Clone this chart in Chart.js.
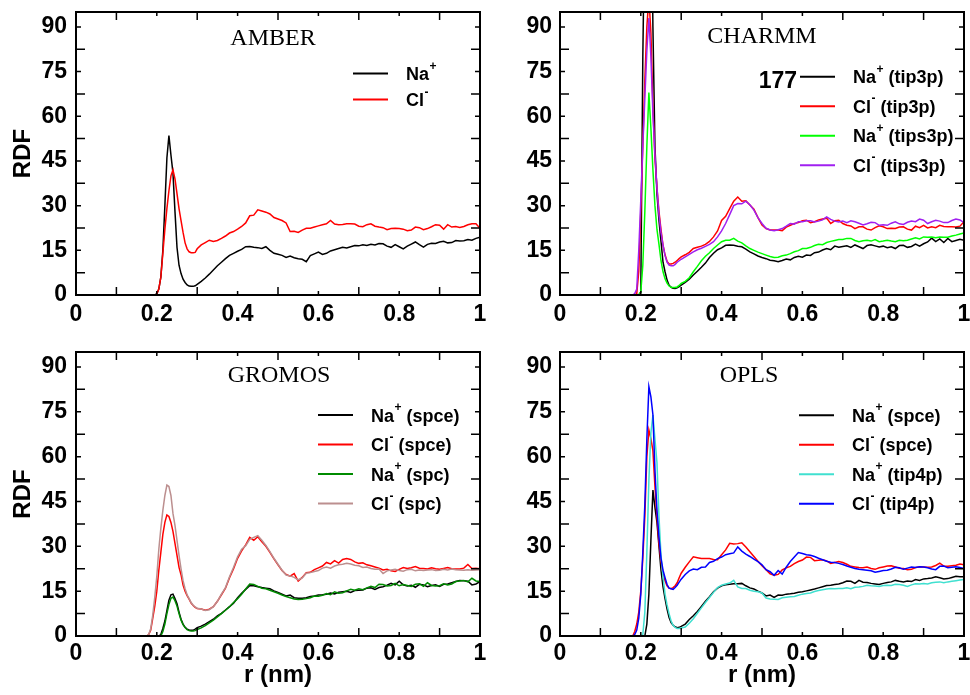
<!DOCTYPE html>
<html>
<head>
<meta charset="utf-8">
<title>Ion RDF by force field</title>
<script src="https://cdn.jsdelivr.net/npm/chart.js@4.4.1/dist/chart.umd.min.js"></script>
<style>
  html, body { margin: 0; padding: 0; background: #fff; }
  #page { position: relative; width: 970px; height: 695px; overflow: hidden; }
  canvas { position: absolute; }
</style>
</head>
<body>
<div id="page">
  <canvas id="amber" width="500" height="340" style="left:0;top:0"></canvas>
  <canvas id="charmm" width="490" height="340" style="left:480px;top:0"></canvas>
  <canvas id="gromos" width="500" height="355" style="left:0;top:340px"></canvas>
  <canvas id="opls" width="490" height="355" style="left:480px;top:340px"></canvas>
</div>
<script>
// r grid (nm): fine steps across the first peak, 0.01 afterwards
const r = [
  0, 0.175, 0.18, 0.185, 0.19, 0.195, 0.2, 0.205, 0.21, 0.215, 0.22, 0.225, 0.23, 0.235,
  0.24, 0.245, 0.25, 0.255, 0.26, 0.265, 0.27, 0.275, 0.28, 0.285, 0.29, 0.295, 0.3,
  0.31, 0.32, 0.33, 0.34, 0.35, 0.36, 0.37, 0.38, 0.39, 0.4,
  0.41, 0.42, 0.43, 0.44, 0.45, 0.46, 0.47, 0.48, 0.49, 0.5,
  0.51, 0.52, 0.53, 0.54, 0.55, 0.56, 0.57, 0.58, 0.59, 0.6,
  0.61, 0.62, 0.63, 0.64, 0.65, 0.66, 0.67, 0.68, 0.69, 0.7,
  0.71, 0.72, 0.73, 0.74, 0.75, 0.76, 0.77, 0.78, 0.79, 0.8,
  0.81, 0.82, 0.83, 0.84, 0.85, 0.86, 0.87, 0.88, 0.89, 0.9,
  0.91, 0.92, 0.93, 0.94, 0.95, 0.96, 0.97, 0.98, 0.99, 1
];

const xTicks = [0, 0.2, 0.4, 0.6, 0.8, 1];
const xTickLabels = ['0', '0.2', '0.4', '0.6', '0.8', '1'];
const xMinor = [0.1, 0.3, 0.5, 0.7, 0.9];
const yTicks = [0, 15, 30, 45, 60, 75, 90];
const yMinor = [7.5, 22.5, 37.5, 52.5, 67.5, 82.5];

// AMBER
const amberNa = [
  0, 0, 0, 0, 0, 0, 0.5, 2, 6, 15, 30, 46, 53.5, 47, 41, 28, 16, 10, 7.2, 5.3, 4.2, 3.4, 3, 2.9, 2.9, 3.1, 3.6,
  4.6, 5.7, 7, 8.4, 9.8, 11, 12.2, 13.3, 14, 14.7,
  15.3, 16.2, 16.3, 16, 15.9, 15.6, 16.2, 15, 14, 13.7,
  13.3, 12.6, 13.1, 12.5, 12.2, 12, 11.2, 13.2, 13.8, 14.4,
  13.6, 14, 14.8, 15.2, 15.6, 16, 15.8, 16.2, 16.6, 16.5,
  16.9, 16.6, 17, 16.8, 17.3, 17.2, 16.4, 16, 16.9, 16.2,
  15.5, 16.4, 17.1, 17.8, 16.9, 16.1, 17, 17.4, 17.3, 17.8,
  18, 17.5, 17.6, 18.3, 18.1, 18.2, 18.6, 18.4, 19, 19.4
];
const amberCl = [
  0, 0, 0, 0, 0, 0, 0.3, 2, 6, 14, 22, 29, 35, 40, 42, 39, 34, 29, 25, 21, 17.5, 15.5, 14.5, 14.2, 14.2, 14.3, 15.5,
  16.8, 17.6, 18.4, 18, 18.3, 19, 19.8, 20.8, 21.3, 22.1,
  23, 24.2, 26.6, 26.8, 28.6, 28.2, 27.8, 27.2, 26, 25.5,
  25, 24.2, 21.3, 21.4, 21, 21.8, 22.4, 22.4, 22.8, 23.2,
  23.6, 23.9, 25, 23.8, 23.6, 23.7, 23.9, 23.9, 23.8, 23.1,
  22.9, 23.6, 23.9, 23.1, 22.8, 22.6, 21.9, 22.3, 22.4, 22.3,
  22.1, 21.6, 21.8, 22.8, 22.6, 21.9, 22.3, 22.9, 23.6, 23.4,
  22.1, 23.6, 22.8, 23, 22.7, 23, 23.6, 23.9, 23.9, 22.4
];

// CHARMM
const charmmNaTip3p = [
  0, 0, 0, 0, 0, 0, 1, 80, 130, 165, 177, 150, 90, 50, 34, 25, 18, 11, 7.8, 5, 3.3, 2.6, 2.3, 2.2, 2.4, 2.8, 3.3,
  4.2, 5.3, 6.7, 8, 9.3, 10.7, 12.6, 14, 15.2, 15.8,
  16.7, 16.8, 16.7, 16.4, 16.2, 15.4, 14.5, 13.8, 13.1, 12.6,
  12.2, 11.7, 11.5, 11.2, 11.6, 12.1, 11.8, 12.6, 13, 12.7,
  13.4, 13.3, 14.2, 14.4, 15.1, 15.6, 15.2, 16.4, 16, 16.3,
  16.5, 16, 16.8, 16.2, 15.6, 16.6, 16.9, 16.5, 16.1, 16.4,
  15.9, 16.2, 15.6, 16.6, 16.7, 16, 16.3, 17.1, 16.4, 17.2,
  17.8, 19.1, 17.9, 18.8, 17.6, 19, 17.9, 18.3, 18.7, 18.4
];
const charmmClTip3p = [
  0, 0, 0, 0, 0.5, 8, 28, 50, 72, 90, 100, 88, 63, 46, 36, 28, 22, 16.7, 13.5, 11.3, 10.4, 10.4, 10.6, 11, 11.6, 12.2, 12.8,
  13.5, 14.3, 15.6, 16, 16.4, 17, 18, 19.5, 21.5, 25,
  26.4, 29, 31.5, 32.9, 31.5, 31.6, 30.2, 28.8, 26, 23.5,
  22.3, 21.8, 21.8, 21.8, 21.6, 22.8, 23.4, 24, 24.3, 24.9,
  25.1, 24.3, 24.6, 25.2, 25.5, 25.8, 24, 24.9, 25.1, 24,
  23.4, 23.2, 22.3, 22.9, 22.9, 22.1, 21.8, 22.6, 23.2, 22.9,
  22.3, 22.4, 22.3, 22.8, 22.9, 22.1, 21.8, 23.1, 22.6, 23.4,
  22.5, 22.9, 22.6, 23.4, 23, 22.9, 22.9, 22.8, 23.1, 24.6
];
const charmmNaTips3p = [
  0, 0, 0, 0, 0, 0, 1, 10, 28, 50, 68, 56, 42, 30, 22, 17, 11.5, 7.8, 5.5, 4, 3, 2.6, 2.5, 2.5, 2.7, 3.2, 3.9,
  4.6, 5.8, 7.8, 9.6, 11.5, 13, 14.2, 15.6, 16.8, 17.9,
  18.4, 18.4, 19, 18.1, 17.5, 16.5, 15.6, 15, 14.4, 13.9,
  13.4, 12.9, 12.6, 12.7, 13.2, 13.4, 13.9, 14.5, 14.9, 15.6,
  15.6, 16, 16.6, 17, 16.9, 17.6, 18, 18.3, 18.6, 18.6,
  19, 19, 18.3, 17.9, 18.2, 18.4, 18.1, 18.6, 17.9, 18.1,
  18.4, 18.1, 17.9, 18.4, 18.2, 18.4, 18.8, 19.2, 18.8, 19.5,
  19.4, 19.5, 19.2, 19.5, 19.4, 19.4, 19.8, 20.1, 20.5, 20.8
];
const charmmClTips3p = [
  0, 0, 0, 0.5, 2, 15, 32, 50, 66, 82, 93, 80, 61, 47, 36, 27, 21, 16.7, 13.2, 11, 10, 9.8, 9.8, 10.3, 11, 11.5, 12,
  12.8, 13.6, 14.5, 15.2, 15.7, 16.3, 17, 17.9, 19.5, 21.5,
  24, 27, 30, 30.7, 30.6, 31.5, 30.3, 28.5, 26, 24,
  22.4, 21.8, 21.6, 21.9, 22.3, 23.1, 24, 23.8, 24.6, 24.6,
  24.9, 24.9, 24.5, 24.8, 25.2, 26.2, 25.4, 24.8, 24.5, 24.8,
  24.3, 24.9, 24.6, 24.1, 23.5, 23.9, 24.4, 24.3, 23.4, 23.6,
  23.4, 24.1, 24.6, 23.9, 23.7, 24.4, 24.8, 24.6, 25.5, 25.1,
  24, 24.6, 25.1, 24.8, 24.3, 24.3, 25, 25.5, 25.2, 24.3
];

// GROMOS
const gromosNaSpce = [
  0, 0, 0, 0, 0, 0, 0, 0, 0.5, 2.5, 5, 8.5, 12, 13.8, 14, 12.5, 10.8, 8, 5.6, 4, 2.9, 2.3, 2, 1.9, 1.9, 2.3, 2.8,
  3.3, 4, 4.8, 5.6, 6.7, 7.6, 8.7, 9.8, 11, 12.8,
  14.3, 15.6, 16.8, 16.8, 16.5, 16.2, 16, 15.8, 15.1, 14.6,
  14, 13.4, 13.7, 12.8, 12.6, 12.6, 12.8, 13.2, 13.4, 13.7,
  13.8, 14, 14.4, 14.1, 14.6, 14.8, 15, 14.6, 15.2, 15.3,
  15.4, 16, 16.1, 15.6, 16.2, 16.5, 17, 17.6, 17.1, 18.3,
  17.1, 16.7, 17, 16.3, 17.3, 17.1, 16.5, 16.9, 17.1, 16.6,
  17.3, 17.4, 17.8, 18.2, 18.6, 18.5, 18.3, 17.1, 17.4, 18.2
];
const gromosClSpce = [
  0, 0, 0.5, 2, 6, 10, 15, 22, 28, 34, 38, 40.5, 40, 38, 35, 31, 27, 23, 20.5, 17, 15, 13.5, 12.3, 11, 10.2, 9.6, 9.2,
  9, 8.6, 9, 9.8, 11.6, 13.8, 16, 19.5, 22.5, 26,
  28.5, 30.5, 33, 32, 33.2, 31.5, 30, 28, 25.8, 23.8,
  21.9, 20.6, 20, 20.9, 18.4, 19.6, 21.2, 21.3, 22.2, 22.8,
  23.4, 24.6, 24.1, 25.2, 24.4, 25.6, 25.9, 25.6, 24.8, 24.3,
  24.5, 23.8, 23.5, 23.1, 22.7, 22.1, 22.3, 21.8, 21.6, 22.3,
  22.9, 22.6, 22.8, 23.2, 22.7, 22.6, 22.4, 22.8, 22.5, 22.3,
  22.6, 22.9, 22.5, 22.4, 22.4, 22.7, 23.9, 22.6, 22.7, 22.5
];
const gromosNaSpc = [
  0, 0, 0, 0, 0, 0, 0, 0, 0, 1.5, 4, 7.5, 10.5, 12.6, 13, 11.8, 10, 7.5, 5.3, 3.8, 2.8, 2.1, 1.8, 1.7, 1.7, 1.8, 2.2,
  2.7, 3.5, 4.4, 5.3, 6.4, 7.5, 8.6, 9.8, 11.2, 12.5,
  14, 15.7, 17.4, 17.2, 16.6, 16, 15.8, 15.3, 14.8, 14.3,
  13.7, 13.2, 12.8, 12.4, 12.2, 12.3, 12.5, 12.8, 13.4, 13.3,
  13.6, 14.2, 13.8, 14.8, 14.3, 14.5, 15.1, 15.6, 15.3, 15.8,
  15.5, 16.1, 16.6, 16.2, 17.3, 17.2, 16.7, 16.9, 17.6, 16.8,
  17.2, 16.9, 16.6, 17.3, 17.5, 16.6, 17.8, 16.9, 16.7, 16.8,
  17.5, 17.1, 17.4, 18.2, 18.4, 18.6, 18.1, 19.3, 18.4, 18.2
];
const gromosClSpc = [
  0, 0, 0.5, 2.5, 7, 13, 20, 29, 36, 42, 47, 50.5, 50, 47, 41, 37, 32, 27, 22.5, 18.5, 15.8, 13.8, 12.5, 11.2, 10.3, 9.7, 9.3,
  9, 8.5, 8.8, 9.8, 11.6, 14, 16.2, 19.8, 23, 26.5,
  29, 30.2, 32.3, 33, 33.6, 32, 30.3, 28.2, 26, 24,
  22, 20.4, 20.1, 19.6, 18.8, 19.4, 21, 21.2, 21.6, 21.9,
  22.7, 23.1, 22.7, 23.4, 23.8, 24, 24.3, 24.1, 23.7, 23.5,
  22.9, 23.1, 22.6, 22.3, 22.4, 20.9, 21.8, 22.1, 22.3, 21.9,
  21.7, 22.2, 22.3, 21.8, 22.1, 21.9, 22.1, 22.2, 21.9, 22,
  22.3, 22.1, 22.4, 22.2, 22.1, 22, 22.2, 22, 22.1, 22.2
];

// OPLS
const oplsNaSpce = [
  0, 0, 0, 0, 0, 0, 0, 0, 0, 4, 14, 32, 48.8, 43, 38, 30, 22, 16.4, 12.5, 9, 6.2, 4.5, 3.6, 3.1, 2.8, 2.9, 3.2,
  4, 5.5, 6.8, 8.2, 9.9, 11.6, 13.1, 14.8, 16, 16.8,
  17.1, 17.3, 17.5, 17.5, 17.6, 16.8, 16.1, 15.7, 15, 14.4,
  13.4, 13.7, 12.9, 13.7, 13.6, 14, 14.1, 14.3, 14.6, 14.8,
  15.1, 15.4, 15.7, 16.1, 16.5, 16.9, 17, 17.2, 17.4, 17.8,
  18.4, 18.3, 17.6, 18.6, 18, 17.9, 17.6, 17.4, 17.2, 17.6,
  17.9, 18.1, 18.6, 18.3, 18.1, 18.4, 18.2, 18.9, 18.6, 19.1,
  19.2, 19.4, 19.8, 19.5, 19.1, 19.2, 19.6, 20, 19.8, 19.8
];
const oplsClSpce = [
  0, 0, 0, 1.5, 4, 8, 15, 26, 40, 60, 68.9, 66, 62, 50, 40, 31, 25, 21, 18.5, 16.8, 16, 15.8, 16.2, 16.8, 17.8, 19.5, 21,
  23, 24.8, 26.5, 26.2, 25.9, 25.9, 25.9, 25.6, 25.5, 27.2,
  28.8, 31, 30.8, 30.9, 31.2, 29.8, 28.2, 26.6, 25, 23.5,
  22.2, 20.8, 20.3, 20.6, 22.1, 22.8, 23.3, 24.2, 24.9, 25.4,
  26.4, 26.3, 25.2, 25.3, 25.5, 25.1, 24.3, 24.6, 24.9, 24.6,
  24, 23.3, 23.1, 22.9, 22.8, 23.1, 22.6, 22.3, 22.8, 23.1,
  23.4, 23.5, 23.1, 22.7, 22.6, 22.2, 22.3, 22.9, 23.1, 23.1,
  23, 23.1, 23.6, 24.4, 23.4, 23.3, 23.5, 23.7, 24.1, 23.8
];
const oplsNaTip4p = [
  0, 0, 0, 0, 0, 0, 0, 0.5, 8, 28, 52, 68, 73.9, 66, 58, 40, 27, 19.8, 14, 10.4, 7.5, 5, 3.6, 2.9, 2.5, 2.5, 2.7,
  3, 4.3, 5.8, 7.6, 9.4, 11.2, 12.9, 14.6, 16.2, 17,
  17.4, 17.7, 18.6, 16.4, 15.9, 15.9, 15.3, 15, 14.8, 14.4,
  12.7, 12.4, 12.3, 12.2, 12.8, 13, 13.1, 13.2, 13.6, 14,
  14.2, 14.4, 14.9, 15.2, 15.5, 15.7, 15.9, 15.8, 15.9, 15.9,
  16.1, 15.8, 16.3, 16.4, 16.6, 17, 16.8, 16.7, 16.6, 16.9,
  17, 16.9, 17.3, 17.2, 17, 16.6, 17.1, 17.5, 17.4, 17.6,
  17.4, 17.8, 18, 18.1, 17.8, 18.1, 18.3, 18.5, 18.7, 18.9
];
const oplsClTip4p = [
  0, 0, 0, 0.5, 2, 6, 14, 28, 44, 66, 83.4, 80, 74, 55.5, 42, 33, 26, 22, 19.5, 17.2, 16, 15.8, 15.6, 16.2, 17, 18, 19,
  20.6, 21.8, 22.4, 22.2, 23, 23.1, 24.6, 25, 25.9, 26.4,
  27.2, 27.5, 27.8, 29.8, 28.4, 27.4, 26.6, 25.7, 24.9, 23.8,
  22.2, 21.5, 20.3, 21.9, 20.7, 23, 24.9, 26.4, 27.9, 27.6,
  27.2, 27, 26.6, 26, 25.5, 25, 24.7, 24.6, 24.3, 23.9,
  23.4, 23, 22.6, 22.3, 22.2, 22, 21.8, 21.3, 21.6, 21.9,
  22, 22.4, 23, 22.8, 22.3, 22.7, 23.1, 22.9, 23.2, 23.1,
  22.8, 22.4, 22.2, 23.3, 23.4, 22.8, 23, 23.2, 22.9, 22.6
];

Chart.defaults.font.family = '"Liberation Sans", Arial, sans-serif';
Chart.defaults.color = '#000';

const tickFont = { size: 23, weight: 'bold' };
const axisTitleFont = { size: 24, weight: 'bold' };

// frame, inward ticks, panel title and legend
const decor = {
  id: 'decor',
  afterDatasetsDraw(chart, args, o) {
    const { ctx, chartArea: a, scales: { x, y } } = chart;
    ctx.save();
    ctx.strokeStyle = '#000';
    ctx.lineWidth = 2;
    ctx.strokeRect(a.left, a.top, a.right - a.left, a.bottom - a.top);

    ctx.lineWidth = 1.5;
    ctx.beginPath();
    const xMark = (v, len) => {
      const p = x.getPixelForValue(v);
      ctx.moveTo(p, a.bottom); ctx.lineTo(p, a.bottom - len);
      ctx.moveTo(p, a.top); ctx.lineTo(p, a.top + len);
    };
    const yMark = (v, len) => {
      const p = y.getPixelForValue(v);
      ctx.moveTo(a.left, p); ctx.lineTo(a.left + len, p);
      ctx.moveTo(a.right, p); ctx.lineTo(a.right - len, p);
    };
    xTicks.forEach(v => xMark(v, 4));
    xMinor.forEach(v => xMark(v, 8));
    yTicks.forEach(v => yMark(v, 5));
    yMinor.forEach(v => yMark(v, 9));
    ctx.stroke();

    ctx.fillStyle = '#000';
    ctx.font = '24px "Liberation Serif", "Times New Roman", serif';
    ctx.textAlign = 'center';
    ctx.textBaseline = 'alphabetic';
    ctx.fillText(o.title, a.left + o.titleX, a.top + o.titleY);

    const lx = a.left + o.legendX;
    chart.data.datasets.forEach((ds, i) => {
      const ly = a.top + o.legendY + i * o.legendGap;
      ctx.strokeStyle = ds.borderColor;
      ctx.lineWidth = 2;
      ctx.beginPath();
      ctx.moveTo(lx, ly);
      ctx.lineTo(lx + 35, ly);
      ctx.stroke();

      const [, ion, charge, rest] = ds.label.match(/^([A-Za-z]+)([+-])(.*)$/);
      const base = ly + 6.5;
      let tx = lx + 53;
      ctx.textAlign = 'left';
      ctx.font = 'bold 18px "Liberation Sans", Arial, sans-serif';
      ctx.fillText(ion, tx, base);
      tx += ctx.measureText(ion).width + 0.5;
      ctx.font = 'bold 12px "Liberation Sans", Arial, sans-serif';
      ctx.fillText(charge, tx, ly - 4);
      tx += ctx.measureText(charge).width;
      ctx.font = 'bold 18px "Liberation Sans", Arial, sans-serif';
      ctx.fillText(rest, tx, base);
    });

    if (o.note) {
      ctx.font = 'bold 23px "Liberation Sans", Arial, sans-serif';
      ctx.textAlign = 'right';
      ctx.fillText(o.note, lx - 3, a.top + o.legendY + 11.5);
    }
    ctx.restore();
  }
};

function makePanel(id, p) {
  const canvas = document.getElementById(id);
  return new Chart(canvas, {
    type: 'line',
    data: {
      datasets: p.series.map((s, i) => ({
        label: s.label,
        data: r.map((rv, k) => ({ x: rv, y: s.values[k] })),
        borderColor: s.color,
        borderWidth: 1.5,
        pointRadius: 0,
        tension: 0,
        fill: false,
        order: -i,
      })),
    },
    options: {
      responsive: false,
      animation: false,
      events: [],
      layout: { padding: { top: 12, right: p.padRight, left: 0, bottom: 0 } },
      plugins: {
        legend: { display: false },
        tooltip: { enabled: false },
        decor: p.decor,
      },
      scales: {
        x: {
          type: 'linear',
          min: 0,
          max: 1,
          grid: { display: false, drawTicks: false },
          border: { display: false },
          afterBuildTicks: s => { s.ticks = xTicks.map(v => ({ value: v })); },
          afterFit: s => { s.height = p.xHeight; s.paddingLeft = 0; s.paddingRight = 0; },
          ticks: {
            font: tickFont,
            padding: p.xPad,
            maxRotation: 0,
            autoSkip: false,
            callback: (v, i) => xTickLabels[i],
          },
          title: {
            display: p.xTitle,
            text: 'r (nm)',
            font: axisTitleFont,
            padding: { top: 0, bottom: 5 },
          },
        },
        y: {
          min: 0,
          max: 95,
          grid: { display: false, drawTicks: false },
          border: { display: false },
          afterBuildTicks: s => { s.ticks = yTicks.map(v => ({ value: v })); },
          afterFit: s => { s.width = p.yWidth; s.paddingTop = 0; s.paddingBottom = 0; },
          ticks: {
            font: tickFont,
            padding: p.yPad,
            callback: v => String(v),
          },
          title: {
            display: p.yTitle,
            text: 'RDF',
            font: axisTitleFont,
            padding: { top: 9, bottom: 0 },
          },
        },
      },
    },
    plugins: [decor],
  });
}

makePanel('amber', {
  padRight: 20, xHeight: 45, yWidth: 76, xPad: 6, yPad: 9, xTitle: false, yTitle: true,
  series: [
    { label: 'Na+', values: amberNa, color: '#000000' },
    { label: 'Cl-', values: amberCl, color: '#ff0000' },
  ],
  decor: { title: 'AMBER', titleX: 197, titleY: 33, legendX: 277, legendY: 61.5, legendGap: 26 },
});

makePanel('charmm', {
  padRight: 6, xHeight: 45, yWidth: 80, xPad: 6, yPad: 8, xTitle: false, yTitle: false,
  series: [
    { label: 'Na+ (tip3p)', values: charmmNaTip3p, color: '#000000' },
    { label: 'Cl- (tip3p)', values: charmmClTip3p, color: '#ff0000' },
    { label: 'Na+ (tips3p)', values: charmmNaTips3p, color: '#00ff00' },
    { label: 'Cl- (tips3p)', values: charmmClTips3p, color: '#a020f0' },
  ],
  decor: { title: 'CHARMM', titleX: 202, titleY: 31, legendX: 240, legendY: 64.7, legendGap: 29.5, note: '177' },
});

makePanel('gromos', {
  padRight: 20, xHeight: 59, yWidth: 76, xPad: 4, yPad: 9, xTitle: true, yTitle: true,
  series: [
    { label: 'Na+ (spce)', values: gromosNaSpce, color: '#000000' },
    { label: 'Cl- (spce)', values: gromosClSpce, color: '#ff0000' },
    { label: 'Na+ (spc)', values: gromosNaSpc, color: '#008b00' },
    { label: 'Cl- (spc)', values: gromosClSpc, color: '#bc8f8f' },
  ],
  decor: { title: 'GROMOS', titleX: 203, titleY: 30, legendX: 242, legendY: 63, legendGap: 29.5 },
});

makePanel('opls', {
  padRight: 6, xHeight: 59, yWidth: 80, xPad: 4, yPad: 8, xTitle: true, yTitle: false,
  series: [
    { label: 'Na+ (spce)', values: oplsNaSpce, color: '#000000' },
    { label: 'Cl- (spce)', values: oplsClSpce, color: '#ff0000' },
    { label: 'Na+ (tip4p)', values: oplsNaTip4p, color: '#40e0d0' },
    { label: 'Cl- (tip4p)', values: oplsClTip4p, color: '#0000ff' },
  ],
  decor: { title: 'OPLS', titleX: 189, titleY: 30, legendX: 239, legendY: 63.3, legendGap: 29.5 },
});
</script>
</body>
</html>
